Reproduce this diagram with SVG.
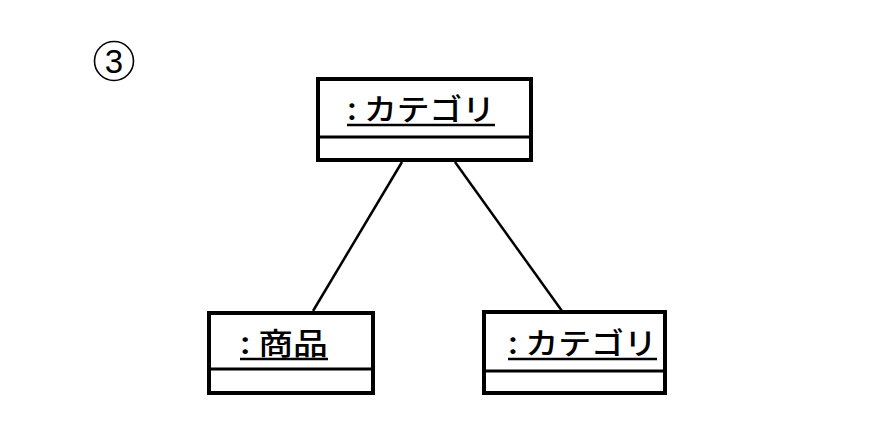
<svg xmlns="http://www.w3.org/2000/svg" width="878" height="448" viewBox="0 0 878 448">
<style>
.box{fill:#fff;stroke:#000;stroke-width:4}
.div{stroke:#000;stroke-width:3}
.lbl{font-family:"Noto Sans CJK JP","Noto Sans",sans-serif;font-size:30px;font-weight:500;fill:#000}
.ul{stroke:#000;stroke-width:2.5}
.conn{stroke:#000;stroke-width:2.5;fill:none}
</style>
<rect width="878" height="448" fill="#fff"/>
<g id="label3">
<circle cx="114" cy="61" r="19.5" fill="none" stroke="#000" stroke-width="1.6"/>
<text x="114" y="73" text-anchor="middle" font-family="Liberation Sans,sans-serif" font-size="33" fill="#000">3</text>
</g>
<g id="connectors">
<line class="conn" x1="402" y1="162" x2="313" y2="311"/>
<line class="conn" x1="455" y1="162" x2="562" y2="311"/>
</g>
<g id="node-top">
<rect class="box" x="318" y="79" width="213" height="81"/>
<line class="div" x1="318" y1="137" x2="531" y2="137"/>
<text class="lbl" x="347" y="120" textLength="148" lengthAdjust="spacingAndGlyphs">: カテゴリ</text>
<line class="ul" x1="347" y1="125" x2="495" y2="125"/>
</g>
<g id="node-left">
<rect class="box" x="209" y="313" width="164" height="80"/>
<line class="div" x1="209" y1="369" x2="373" y2="369"/>
<text class="lbl" x="240" y="354" textLength="88" lengthAdjust="spacingAndGlyphs">: 商品</text>
<line class="ul" x1="240" y1="359" x2="328" y2="359"/>
</g>
<g id="node-right">
<rect class="box" x="484" y="312" width="181" height="81"/>
<line class="div" x1="484" y1="371" x2="665" y2="371"/>
<text class="lbl" x="508" y="354" textLength="149" lengthAdjust="spacingAndGlyphs">: カテゴリ</text>
<line class="ul" x1="508" y1="359" x2="657" y2="359"/>
</g>
</svg>
